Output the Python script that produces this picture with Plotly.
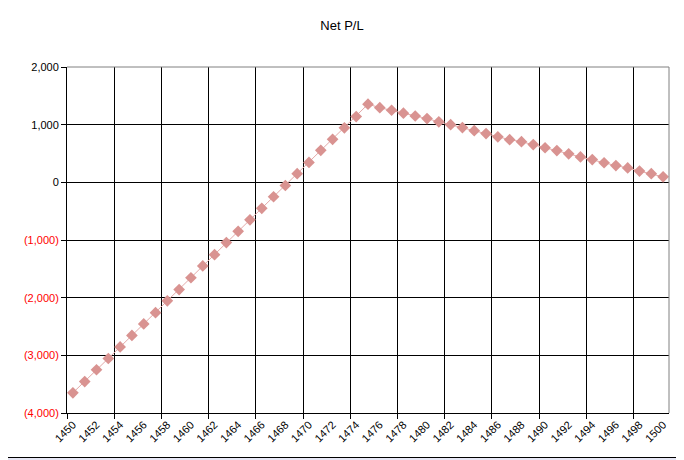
import plotly.graph_objects as go

# Net P/L per price level
years = list(range(1450, 1501))
pnl = [-3650, -3455, -3250, -3055, -2855, -2655, -2455, -2260, -2055, -1860,
       -1655, -1450, -1255, -1045, -850, -650, -450, -250, -55, 150,
       345, 555, 745, 945, 1140, 1355, 1295, 1250, 1200, 1150,
       1105, 1050, 1000, 950, 895, 845, 790, 740, 705, 655,
       600, 550, 495, 440, 395, 340, 290, 250, 195, 150, 95]

x_labels = years[::2]
x_grid = [y - 0.5 for y in years[::4]]
y_ticks = [-4000, -3000, -2000, -1000, 0, 1000, 2000]


def fmt(v):
    # Excel accounting style: negatives in red brackets
    if v < 0:
        return '<span style="color:#FF0000">(%s)</span>' % format(-v, ",")
    return format(v, ",")


fig = go.Figure()
fig.add_trace(go.Scatter(
    x=years, y=pnl, mode="lines+markers",
    line=dict(color="#E3A9A8", width=1),
    marker=dict(symbol="diamond", size=9, color="#D99391"),
    showlegend=False, hoverinfo="x+y",
))
# invisible trace so the grid axis gets drawn
fig.add_trace(go.Scatter(x=[years[0]], y=[pnl[0]], xaxis="x2", mode="markers",
                         marker=dict(opacity=0), showlegend=False, hoverinfo="skip"))

rng = [years[0] - 0.5, years[-1] + 0.5]
font = dict(family="Liberation Sans, Arial, sans-serif", size=11, color="black")

# the page body adds 8px on the left/top, so the figure is 8px smaller
fig.update_layout(
    width=676, height=452,
    margin=dict(l=59, r=15, t=59, b=47),
    paper_bgcolor="#E6E6F4",
    plot_bgcolor="white",
    font=font,
    title=dict(text="Net P/L", x=334 / 676, xref="container", y=1 - 17 / 452,
               yref="container", yanchor="middle", xanchor="center",
               font=dict(family="Liberation Sans, Arial, sans-serif", size=13, color="black")),
    xaxis=dict(range=rng, tickmode="array", tickvals=x_labels,
               ticktext=[str(v) for v in x_labels], tickangle=-45,
               showgrid=False, ticks="", showline=True, linecolor="black",
               linewidth=1, zeroline=False, tickfont=font),
    xaxis2=dict(range=rng, overlaying="x", anchor="y", side="bottom",
                tickmode="array", tickvals=x_grid, showticklabels=False,
                showgrid=True, gridcolor="black", gridwidth=1,
                ticks="outside", ticklen=5, tickcolor="black", zeroline=False),
    yaxis=dict(range=[-4000, 2000], tickmode="array", tickvals=y_ticks,
               ticktext=[fmt(v) for v in y_ticks], showgrid=True,
               gridcolor="black", gridwidth=1, ticks="outside", ticklen=5,
               tickcolor="black", showline=True, linecolor="black",
               zeroline=False, tickfont=font),
    shapes=[
        # white chart area with black frame
        dict(type="rect", xref="paper", yref="paper", layer="below",
             x0=-61 / 602, x1=615.5 / 602, y0=-44.5 / 346, y1=407 / 346,
             fillcolor="white", line=dict(color="black", width=1)),
        # grey plot-area border on top and right
        dict(type="line", xref="paper", yref="paper", x0=0, x1=1, y0=1, y1=1,
             line=dict(color="#808080", width=1)),
        dict(type="line", xref="paper", yref="paper", x0=1, x1=1, y0=0, y1=1,
             line=dict(color="#808080", width=1)),
    ],
)

fig.write_html("out.html")
